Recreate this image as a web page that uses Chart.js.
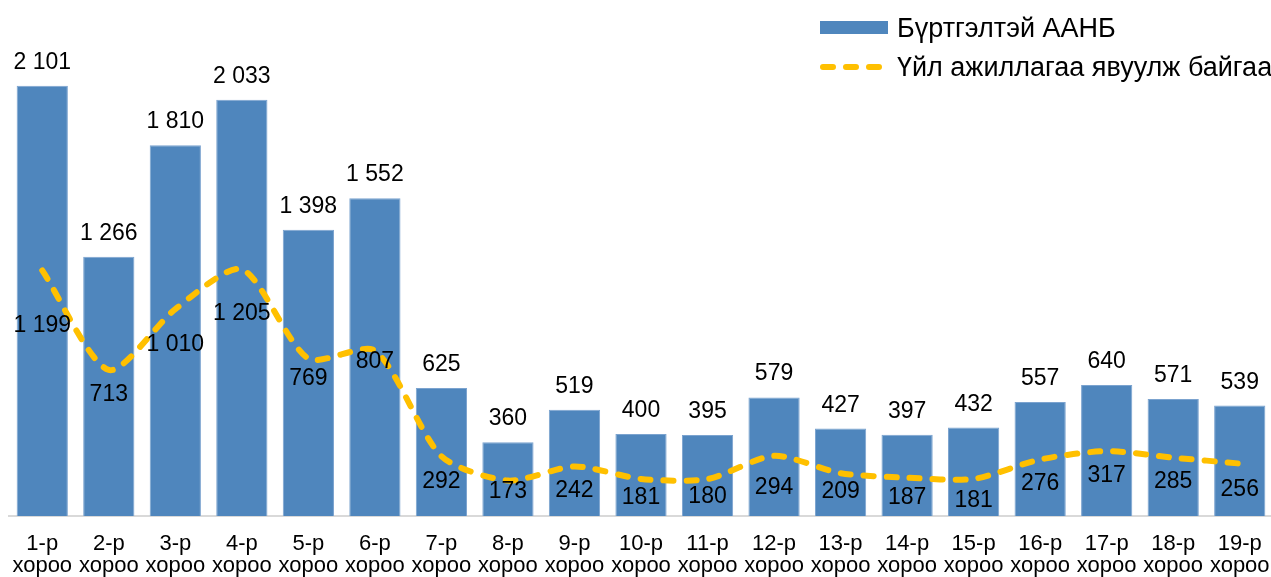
<!DOCTYPE html>
<html><head><meta charset="utf-8">
<script src="https://cdn.jsdelivr.net/npm/chart.js@4"></script>
<style>html,body{margin:0;padding:0;overflow:hidden;background:#fff}</style>
</head><body>
<canvas id="c" width="1273" height="577"></canvas>
<script>
const categories = ['1-р хороо','2-р хороо','3-р хороо','4-р хороо','5-р хороо','6-р хороо','7-р хороо','8-р хороо','9-р хороо','10-р хороо','11-р хороо','12-р хороо','13-р хороо','14-р хороо','15-р хороо','16-р хороо','17-р хороо','18-р хороо','19-р хороо'];
const registered = [2101,1266,1810,2033,1398,1552,625,360,519,400,395,579,427,397,432,557,640,571,539];
const active = [1199,713,1010,1205,769,807,292,173,242,181,180,294,209,187,181,276,317,285,256];
const seriesNames = ['Бүртгэлтэй ААНБ','Үйл ажиллагаа явуулж байгаа'];

const BLUE = '#4F86BD';
const GOLD = '#FFC000';
const FONT = '"Liberation Sans", Arial, sans-serif';
const lineLabelDy = [55,25,36,44,20,11,25,11,24,19,18,32,18,20,22,24,25,24,26];

const fmt = v => String(v).replace(/\B(?=(\d{3})+(?!\d))/g, ' ');

const labelPlugin = {
  id: 'labels',
  afterDatasetsDraw(chart) {
    const ctx = chart.ctx;
    ctx.save();
    ctx.fillStyle = '#000';
    ctx.font = '23px ' + FONT;
    ctx.textAlign = 'center';
    const barMeta = chart.getDatasetMeta(0);
    barMeta.data.forEach((el, i) => {
      ctx.textBaseline = 'alphabetic';
      ctx.fillText(fmt(registered[i]), el.x, el.y - 17);
    });
    const lineMeta = chart.getDatasetMeta(1);
    lineMeta.data.forEach((el, i) => {
      ctx.textBaseline = 'middle';
      ctx.fillText(fmt(active[i]), el.x, el.y + lineLabelDy[i]);
    });
    ctx.restore();
  },
  afterDraw(chart) {
    const ctx = chart.ctx;
    ctx.save();
    ctx.font = '27px ' + FONT;
    ctx.textAlign = 'left';
    ctx.textBaseline = 'alphabetic';
    ctx.fillStyle = BLUE;
    ctx.fillRect(820, 21, 68, 13);
    ctx.fillStyle = '#000';
    ctx.fillText(seriesNames[0], 897, 37);
    ctx.strokeStyle = GOLD;
    ctx.lineWidth = 6;
    ctx.lineCap = 'round';
    ctx.setLineDash([10, 13]);
    ctx.beginPath();
    ctx.moveTo(823, 67);
    ctx.lineTo(883, 67);
    ctx.stroke();
    ctx.setLineDash([]);
    ctx.fillText(seriesNames[1], 897, 76);
    ctx.restore();
  }
};

new Chart(document.getElementById('c'), {
  type: 'bar',
  data: {
    labels: categories.map(c => c.split(' ')),
    datasets: [
      {
        type: 'bar',
        label: seriesNames[0],
        data: registered,
        backgroundColor: BLUE,
        borderColor: '#7BA3CF',
        borderWidth: 1,
        categoryPercentage: 1,
        barPercentage: 0.77,
        order: 2
      },
      {
        type: 'line',
        label: seriesNames[1],
        data: active,
        borderColor: GOLD,
        borderWidth: 6,
        borderDash: [10, 13],
        borderCapStyle: 'round',
        tension: 0.25,
        pointRadius: 0,
        fill: false,
        order: 1
      }
    ]
  },
  options: {
    responsive: false,
    animation: false,
    devicePixelRatio: 1,
    layout: { padding: { left: 9, right: 0, top: 4, bottom: 0 } },
    plugins: { legend: { display: false }, tooltip: { enabled: false } },
    scales: {
      y: { display: false, min: 0, max: 2500 },
      x: {
        grid: { display: false, drawTicks: false },
        border: { display: true, color: '#D9D9D9', width: 2 },
        ticks: {
          color: '#000',
          font: { family: FONT, size: 22, lineHeight: 1.0 },
          padding: 17,
          maxRotation: 0,
          autoSkip: false
        },
        afterFit(scale) { scale.height = 61; scale.paddingLeft = 0; scale.paddingRight = 0; }
      }
    }
  },
  plugins: [labelPlugin]
});
</script>
</body></html>
